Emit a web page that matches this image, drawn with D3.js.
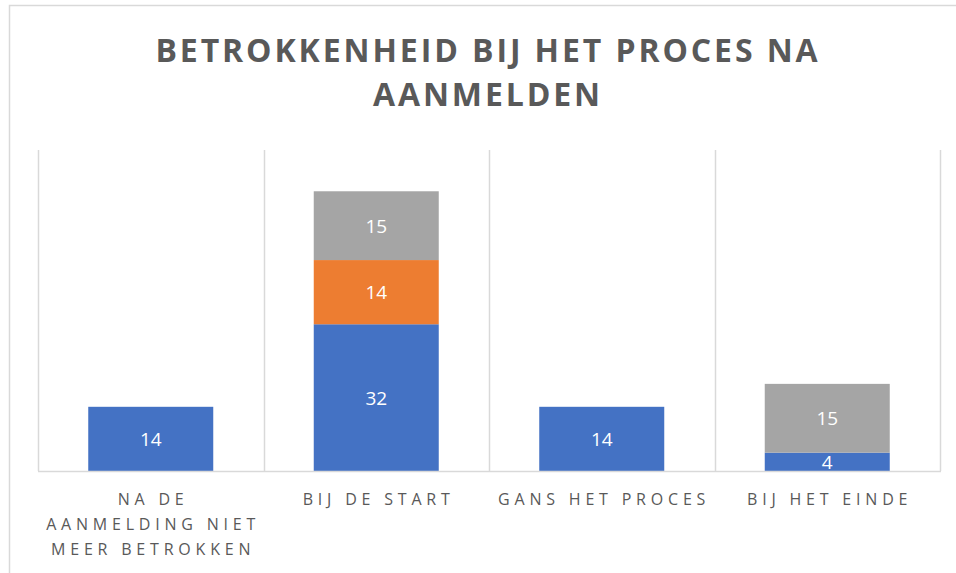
<!DOCTYPE html>
<html>
<head>
<meta charset="utf-8">
<script src="https://cdn.jsdelivr.net/npm/d3@7"></script>
<style>
  body { margin: 0; background: #fff; }
  svg { display: block; font-family: "Open Sans", "Noto Sans", sans-serif; }
</style>
</head>
<body>
<div id="chart"></div>
<script>
const categories = [
    ["NA DE", "AANMELDING NIET", "MEER BETROKKEN"],
    ["BIJ DE START"],
    ["GANS HET PROCES"],
    ["BIJ HET EINDE"]
];
const seriesNames = ["reeks1", "reeks2", "reeks3"];
const seriesColors = ["#4472c4", "#ed7d31", "#a5a5a5"];
const reeks1 = [14, 32, 14, 4];
const reeks2 = [0, 14, 0, 0];
const reeks3 = [0, 15, 0, 15];
const titleLines = ["BETROKKENHEID BIJ HET PROCES NA", "AANMELDEN"];

const width = 956, height = 573;
const margin = {left: 38, right: 16, top: 150, bottom: 102};

const svg = d3.select("#chart").append("svg")
    .attr("width", width)
    .attr("height", height);

// outer chart border (partly cropped)
svg.append("path")
    .attr("d", "M9.5,573 V5.5 H956")
    .attr("fill", "none")
    .attr("stroke", "#d9d9d9")
    .attr("stroke-width", 1.5);

// title
svg.append("g").selectAll("text")
    .data(titleLines)
    .enter().append("text")
        .attr("x", 488)
        .attr("y", (d, i) => 62 + i * 44)
        .attr("text-anchor", "middle")
        .attr("fill", "#595959")
        .attr("font-size", 32)
        .attr("font-weight", "bold")
        .attr("letter-spacing", 2.9)
        .text((d) => d);

const rows = categories.map((c, i) => ({
    idx: i,
    reeks1: reeks1[i],
    reeks2: reeks2[i],
    reeks3: reeks3[i]
}));

const x = d3.scaleBand()
    .domain(rows.map((d) => d.idx))
    .range([margin.left, width - margin.right])
    .paddingInner(0)
    .paddingOuter(0);

const y = d3.scaleLinear()
    .domain([0, 70])
    .range([height - margin.bottom, margin.top]);

// vertical gridlines between categories
const bounds = x.domain().map((d) => x(d)).concat([x.range()[1]]);
svg.append("g").selectAll("line")
    .data(bounds)
    .enter().append("line")
        .attr("x1", (d) => Math.round(d) + 0.5)
        .attr("x2", (d) => Math.round(d) + 0.5)
        .attr("y1", y(70))
        .attr("y2", y(0))
        .attr("stroke", "#d9d9d9")
        .attr("stroke-width", 1.5);

const stack = d3.stack().keys(seriesNames);
const stacked = stack(rows);
const barW = 125;

const layer = svg.append("g").selectAll("g")
    .data(stacked)
    .enter().append("g")
        .attr("fill", (d, i) => seriesColors[i]);

layer.selectAll("rect")
    .data((d) => d.filter((v) => v[1] - v[0] > 0))
    .enter().append("rect")
        .attr("x", (d) => x(d.data.idx) + x.bandwidth() / 2 - barW / 2)
        .attr("width", barW)
        .attr("y", (d) => y(d[1]))
        .attr("height", (d) => y(d[0]) - y(d[1]));

layer.selectAll("text")
    .data((d) => d.filter((v) => v[1] - v[0] > 0))
    .enter().append("text")
        .attr("x", (d) => x(d.data.idx) + x.bandwidth() / 2)
        .attr("y", (d) => (y(d[0]) + y(d[1])) / 2 + 7)
        .attr("text-anchor", "middle")
        .attr("fill", "#ffffff")
        .attr("font-size", 19)
        .text((d) => d[1] - d[0]);

// baseline
svg.append("line")
    .attr("x1", x.range()[0])
    .attr("x2", x.range()[1] + 1)
    .attr("y1", y(0) + 0.5)
    .attr("y2", y(0) + 0.5)
    .attr("stroke", "#d9d9d9")
    .attr("stroke-width", 1.5);

// category labels
const labels = svg.append("g").selectAll("text")
    .data(categories)
    .enter().append("text")
        .attr("text-anchor", "middle")
        .attr("fill", "#595959")
        .attr("font-size", 16)
        .attr("letter-spacing", 4.8);

labels.selectAll("tspan")
    .data((d, i) => d.map((t) => ({t: t, i: i})))
    .enter().append("tspan")
        .attr("x", (d) => x(d.i) + x.bandwidth() / 2 + 2.4)
        .attr("y", (d, j) => 505 + j * 25)
        .text((d) => d.t);
</script>
</body>
</html>
